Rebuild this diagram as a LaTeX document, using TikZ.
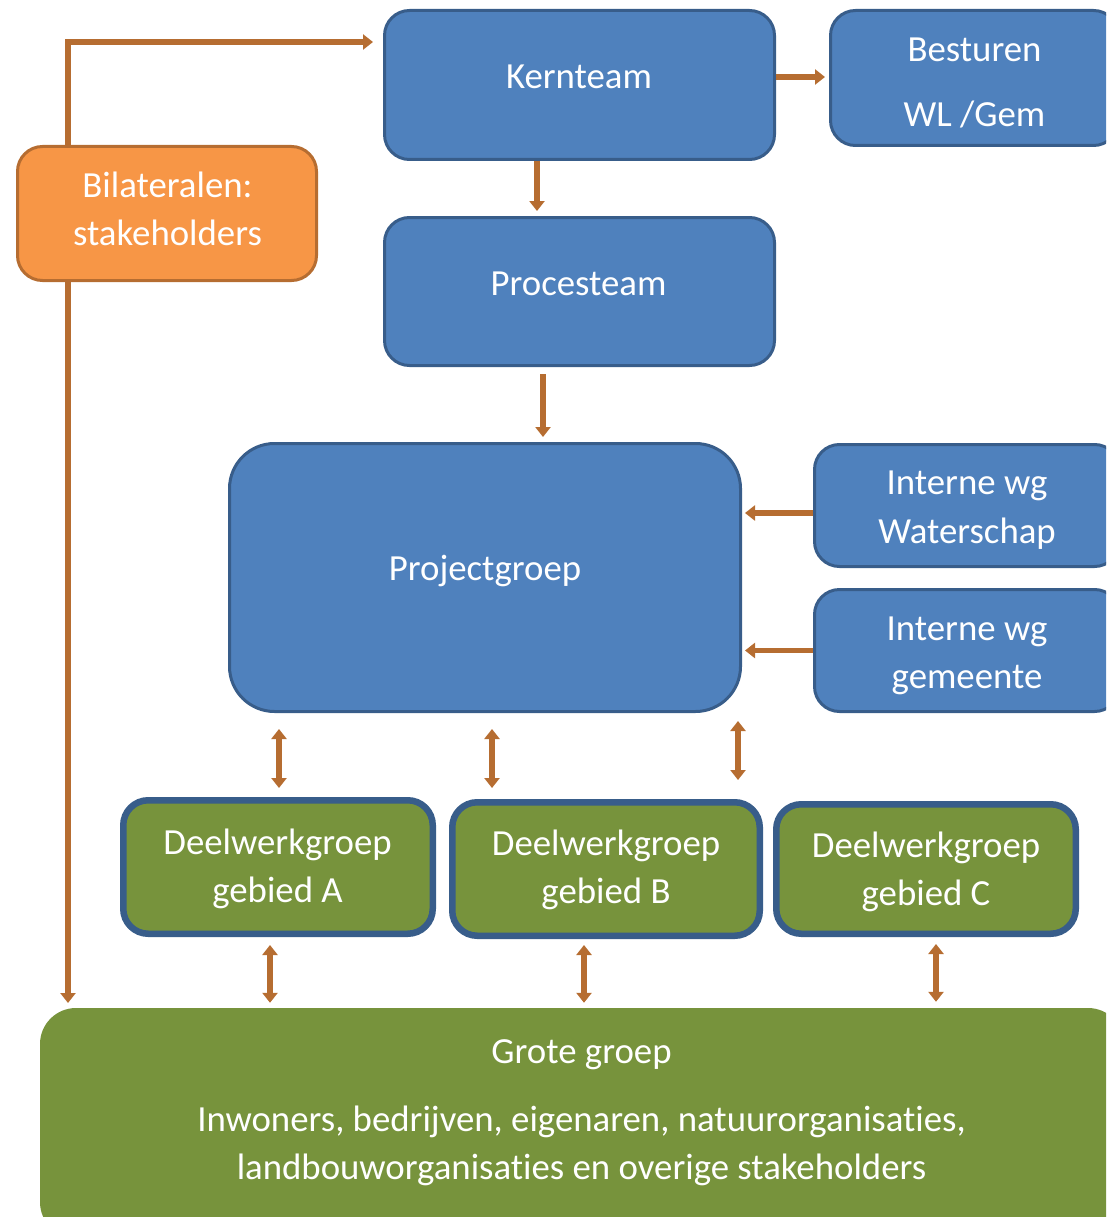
\documentclass[tikz,border=0pt]{standalone}
\usepackage{fontspec}
\setmainfont{Carlito}[Ligatures=NoCommon]
\usetikzlibrary{arrows.meta}
\definecolor{bfill}{HTML}{4F81BD}
\definecolor{bline}{HTML}{385D8A}
\definecolor{ofill}{HTML}{F79646}
\definecolor{oline}{HTML}{B66D31}
\definecolor{gfill}{HTML}{77933C}
\definecolor{acol}{HTML}{B66D31}
\begin{document}
\begin{tikzpicture}[x=1pt,y=-1pt,
  bluebox/.style={rectangle, fill=bfill, draw=bline, line width=3pt, rounded corners=25pt, inner sep=0pt},
  orangebox/.style={rectangle, fill=ofill, draw=oline, line width=3pt, rounded corners=25pt, inner sep=0pt},
  greenbox/.style={rectangle, fill=gfill, draw=bline, line width=6.5pt, rounded corners=25pt, inner sep=0pt},
  bigbox/.style={rectangle, fill=gfill, draw=none, rounded corners=36pt, inner sep=0pt},
  txt/.style={text=white, font=\fontsize{36.8}{48.5}\selectfont, align=center, inner sep=0pt},
  arr/.style={draw=acol, line width=5.5pt, -{Triangle[length=10pt,width=15pt]}},
  dbl/.style={draw=acol, line width=5.5pt, {Triangle[length=10pt,width=15pt]}-{Triangle[length=10pt,width=15pt]}}
]
\useasboundingbox (0,0) rectangle (1106,1217);
\clip (0,0) rectangle (1106,1217);

% boxes
\node[bluebox, minimum width=390pt, minimum height=149pt] (kern) at (579.5,85) {};
\node[bluebox, minimum width=288pt, minimum height=135pt] (best) at (974.5,78) {};
\node[orangebox, minimum width=299pt, minimum height=134pt] (bil) at (167,213.5) {};
\node[bluebox, minimum width=390pt, minimum height=148pt] (proc) at (579.5,291.5) {};
\node[bluebox, rounded corners=45pt, minimum width=511pt, minimum height=268pt] (proj) at (485,577.5) {};
\node[bluebox, minimum width=305pt, minimum height=122pt] (iw1) at (967,505.5) {};
\node[bluebox, minimum width=305pt, minimum height=122pt] (iw2) at (967,650.5) {};
\node[greenbox, minimum width=309.5pt, minimum height=133.5pt] (dA) at (278,867) {};
\node[greenbox, minimum width=307.5pt, minimum height=133.5pt] (dB) at (606,869) {};
\node[greenbox, minimum width=299.5pt, minimum height=129.5pt] (dC) at (926,869) {};
\node[bigbox, minimum width=1084pt, minimum height=230pt] (grote) at (582,1123) {};

% texts
\node[txt] (kern-t) at (579,77) {Kernteam};
\node[txt] (best-t1) at (974.5,50) {Besturen};
\node[txt] (best-t2) at (974.5,115) {WL /Gem};
\node[txt] (bil-t) at (167.5,209) {Bilateralen:\\stakeholders};
\node[txt] (proc-t) at (578.5,284) {Procesteam};
\node[txt] (proj-t) at (485,571) {Projectgroep};
\node[txt] (iw1-t) at (967,510) {Interne wg\\Waterschap};
\node[txt] (iw2-t) at (967,656) {Interne wg\\gemeente};
\node[txt] (dA-t) at (277.5,869) {Deelwerkgroep\\gebied A};
\node[txt] (dB-t) at (606,870) {Deelwerkgroep\\gebied B};
\node[txt] (dC-t) at (926,872) {Deelwerkgroep\\gebied C};
\node[txt] (grote-t1) at (581.5,1055) {Grote groep};
\node[txt] (grote-t2) at (581.5,1146) {Inwoners, bedrijven, eigenaren, natuurorganisaties,\\landbouworganisaties en overige stakeholders};

% connectors
\coordinate (bilx) at (68,0);
\coordinate (kin) at (373,42);
\coordinate (gin) at (68,1003);
\draw[arr, line join=miter] (bil.north -| bilx) |- (kin);
\draw[arr] (bil.south -| bilx) -- (gin);
\draw[arr] ([yshift=8pt]kern.east) -- ([xshift=-4pt,yshift=1pt]best.west);
\draw[arr] ([xshift=-42.5pt]kern.south) -- ([xshift=-42.5pt,yshift=5pt]proc.north);
\draw[arr] ([xshift=-36.5pt,yshift=-7pt]proc.south) -- ([xshift=58pt,yshift=5pt]proj.north);
\draw[arr] ([yshift=-7.5pt]iw1.west) -- ([xshift=3pt,yshift=-7.5pt]proj.east |- iw1.west);
\draw[arr] ([yshift=0pt]iw2.west) -- ([xshift=3pt]proj.east |- iw2.west);
\draw[dbl] ([xshift=-206pt,yshift=-16pt]proj.south) -- ([xshift=1pt,yshift=9pt]dA.north);
\draw[dbl] ([xshift=7pt,yshift=-16pt]proj.south) -- ([xshift=-114pt,yshift=11pt]dB.north);
\draw[dbl] ([xshift=253pt,yshift=-8pt]proj.south) -- ([xshift=-188pt,yshift=21pt]dC.north);
\draw[dbl] ([xshift=-8pt,yshift=-8pt]dA.south) -- ([xshift=-312pt,yshift=5pt]grote.north);
\draw[dbl] ([xshift=-22pt,yshift=-6pt]dB.south) -- ([xshift=2pt,yshift=5pt]grote.north);
\draw[dbl] ([xshift=10pt,yshift=-7pt]dC.south) -- ([xshift=354pt,yshift=6pt]grote.north);
\end{tikzpicture}
\end{document}
